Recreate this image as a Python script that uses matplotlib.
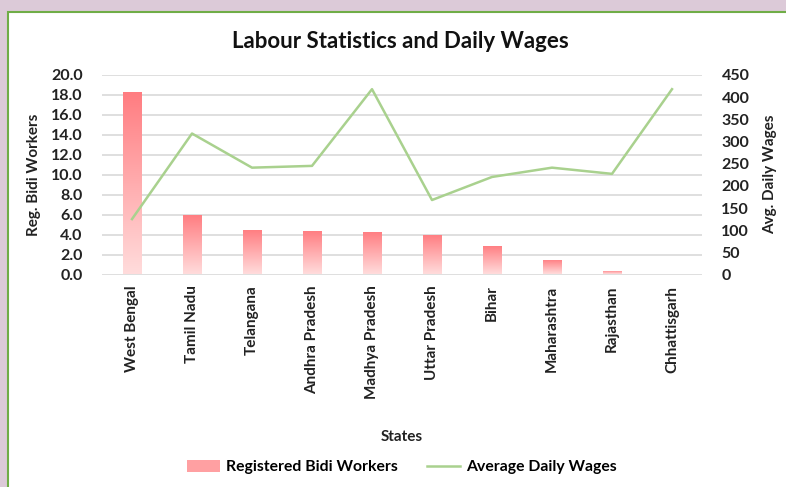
import matplotlib.pyplot as plt
import numpy as np
from matplotlib.patches import Rectangle
from matplotlib.lines import Line2D
from matplotlib.colors import LinearSegmentedColormap

states = ['West Bengal', 'Tamil Nadu', 'Telangana', 'Andhra Pradesh', 'Madhya Pradesh',
          'Uttar Pradesh', 'Bihar', 'Maharashtra', 'Rajasthan', 'Chhattisgarh']
bidi_workers = [18.3, 6.0, 4.5, 4.4, 4.3, 4.0, 2.9, 1.5, 0.4, 0.0]
daily_wages = [125, 318, 241, 245, 418, 168, 220, 241, 227, 418]

plt.rcParams['font.family'] = ['Lato', 'DejaVu Sans']
plt.rcParams['font.weight'] = 'bold'
plt.rcParams['axes.labelweight'] = 'bold'

fig = plt.figure(figsize=(7.86, 4.87), dpi=100)
fig.patch.set_facecolor('#dccad8')
# white chart panel with green border
fig.patches.append(Rectangle((8 / 786, -0.01), 1.0, 1 - 12 / 487 + 0.01, transform=fig.transFigure,
                             facecolor='white', edgecolor='#70ad47', linewidth=1.5, zorder=-10))

ax = fig.add_axes([102 / 786, 1 - 274.5 / 487, 600 / 786, 199.5 / 487])
ax.set_facecolor('none')
x = np.arange(len(states))

bars = ax.bar(x, bidi_workers, width=0.31, color='none', zorder=2)
grad = LinearSegmentedColormap.from_list('g', ['#ffdcdc', '#ff7c80'])
gradient = np.linspace(0, 1, 256).reshape(-1, 1)
for b in bars:
    if b.get_height() <= 0:
        continue
    bx, by = b.get_x(), b.get_y()
    im = ax.imshow(gradient, cmap=grad, aspect='auto', origin='lower',
                   extent=[bx, bx + b.get_width(), by, by + b.get_height()], zorder=2)
    im.set_clip_path(b)

ax.set_xlim(-0.5, len(states) - 0.5)
ax.set_ylim(0, 20)
ax.set_yticks(np.arange(0, 20.1, 2))
ax.set_yticklabels([f'{v:.1f}' for v in np.arange(0, 20.1, 2)])
ax.grid(axis='y', color='#d9d9d9', linewidth=1.2, zorder=0)
ax.set_axisbelow(True)
for s in ax.spines.values():
    s.set_visible(False)
ax.tick_params(length=0, labelsize=11.5, colors='#222222')
ax.tick_params(axis='y', pad=14)
ax.set_xticks(x)
ax.set_xticklabels(states, rotation=90, va='top', ha='center')
ax.tick_params(axis='x', pad=8, labelsize=11)
ax.set_ylabel('Reg. Bidi Workers', fontsize=11, labelpad=7, color='#222222')
ax.set_xlabel('States', fontsize=11, labelpad=22, color='#222222')

ax2 = ax.twinx()
ax2.plot(x, daily_wages, color='#a9d18e', linewidth=1.8, zorder=3)
ax2.set_ylim(0, 450)
ax2.set_yticks(np.arange(0, 451, 50))
for s in ax2.spines.values():
    s.set_visible(False)
ax2.tick_params(length=0, labelsize=11.5, colors='#222222', pad=14)
ax2.set_ylabel('Avg. Daily Wages', fontsize=11, labelpad=10, color='#222222')

fig.text(400 / 786, 1 - 42 / 487, 'Labour Statistics and Daily Wages', ha='center', va='center',
         fontsize=16, color='#111111')

handles = [Rectangle((0, 0), 1, 1, facecolor='#ffa0a2', edgecolor='none'),
           Line2D([0], [0], color='#a9d18e', linewidth=1.8)]
fig.legend(handles, ['Registered Bidi Workers', 'Average Daily Wages'], loc='center',
           bbox_to_anchor=(402 / 786, 1 - 467 / 487), ncol=2, frameon=False, fontsize=11.3,
           handlelength=2.1, handleheight=0.8, columnspacing=1.85, handletextpad=0.4)

fig.savefig('out.png', dpi=100)
